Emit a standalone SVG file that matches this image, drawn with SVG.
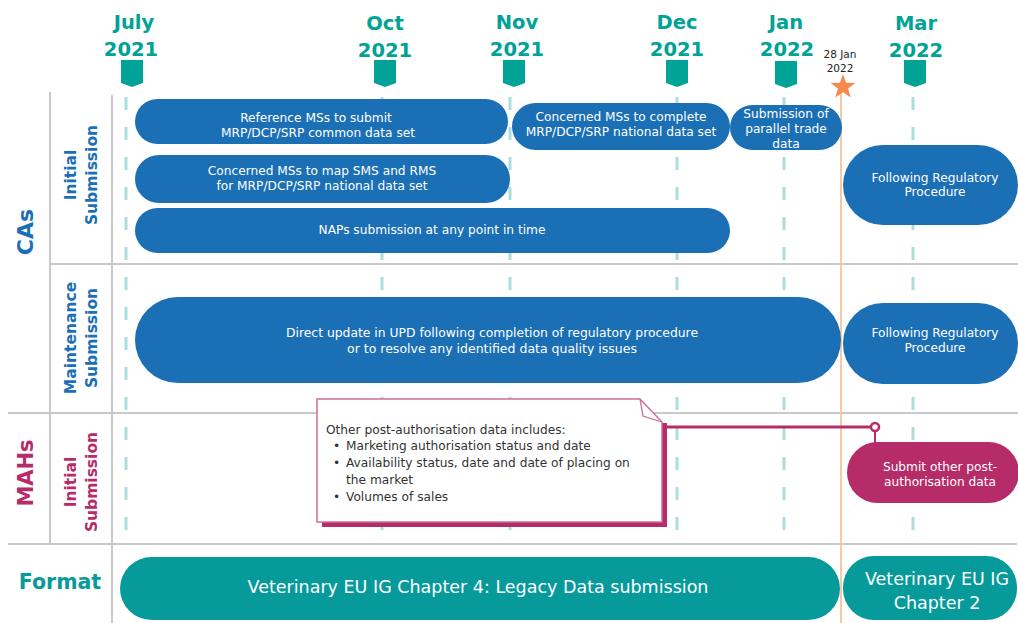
<svg xmlns="http://www.w3.org/2000/svg" width="1018" height="623" viewBox="0 0 1018 623">
<style>
.month{font-family:"DejaVu Sans",Verdana,sans-serif;font-weight:bold;font-size:19.5px;fill:#00a396;text-anchor:middle}
.grid{stroke:#c9c9c9;stroke-width:2;fill:none}
.dash{stroke:#a9dedb;stroke-width:3;stroke-dasharray:13 17;fill:none}
.blue{fill:#1b6fb5}
.mag{fill:#b52c69}
.teal{fill:#079a9b}
.pt{font-family:"DejaVu Sans",Verdana,sans-serif;font-size:12.2px;fill:#ffffff;text-anchor:middle}
.ft{font-family:"DejaVu Sans",Verdana,sans-serif;font-size:17.5px;fill:#ffffff;text-anchor:middle}
.lab{font-family:"DejaVu Sans",Verdana,sans-serif;font-weight:bold;text-anchor:middle}
.ct{font-family:"DejaVu Sans",Verdana,sans-serif;font-size:12.2px;fill:#333333}
</style>
<defs>
<polygon id="tab" points="-11,0 11,0 11,23 0,27 -11,23" fill="#00a396"/>
</defs>
<rect width="1018" height="623" fill="#ffffff"/>

<g id="header">
<text class="month" x="134" y="29">July</text><text class="month" x="131" y="56">2021</text>
<text class="month" x="385" y="30">Oct</text><text class="month" x="385" y="57">2021</text>
<text class="month" x="517" y="29">Nov</text><text class="month" x="517" y="56">2021</text>
<text class="month" x="677" y="29">Dec</text><text class="month" x="677" y="56">2021</text>
<text class="month" x="786" y="29">Jan</text><text class="month" x="787" y="56">2022</text>
<text class="month" x="916" y="30">Mar</text><text class="month" x="916" y="57">2022</text>
<use href="#tab" x="132" y="60"/>
<use href="#tab" x="385" y="60"/>
<use href="#tab" x="514" y="60"/>
<use href="#tab" x="677" y="60"/>
<use href="#tab" x="786" y="61"/>
<use href="#tab" x="915" y="60"/>
</g>

<g id="grid">
<line class="grid" x1="50" y1="92" x2="50" y2="544"/>
<line class="grid" x1="112" y1="95" x2="112" y2="623"/>
<line class="grid" x1="50" y1="264" x2="1018" y2="264"/>
<line class="grid" x1="8" y1="413" x2="1018" y2="413"/>
<line class="grid" x1="8" y1="544" x2="1017" y2="544"/>
<line class="dash" x1="126" y1="97" x2="126" y2="545"/>
<line class="dash" x1="382" y1="97" x2="382" y2="545"/>
<line class="dash" x1="510" y1="97" x2="510" y2="545"/>
<line class="dash" x1="677" y1="97" x2="677" y2="545"/>
<line class="dash" x1="784" y1="97" x2="784" y2="545"/>
<line class="dash" x1="913" y1="97" x2="913" y2="545"/>
</g>

<g id="deadline">
<line x1="841" y1="92" x2="841" y2="623" stroke="#f8c9a6" stroke-width="2"/>
<text font-family="DejaVu Sans,Verdana,sans-serif" font-size="10.5" fill="#222222" text-anchor="middle" x="840" y="58">28 Jan</text>
<text font-family="DejaVu Sans,Verdana,sans-serif" font-size="10.5" fill="#222222" text-anchor="middle" x="840" y="72">2022</text>
<polygon fill="#f58a4a" points="843,74 846.1,82.7 855.4,82.9 848.1,88.6 850.6,97.5 843,92.3 835.4,97.5 837.9,88.6 830.6,82.9 839.9,82.7"/>
</g>

<g id="labels">
<text class="lab" font-size="22" fill="#1b6fb5" transform="translate(33,232) rotate(-90)">CAs</text>
<text class="lab" font-size="15.5" fill="#1b6fb5" transform="translate(76,175) rotate(-90)">Initial</text>
<text class="lab" font-size="15.5" fill="#1b6fb5" transform="translate(97,175) rotate(-90)">Submission</text>
<text class="lab" font-size="15.5" fill="#1b6fb5" transform="translate(76,338) rotate(-90)">Maintenance</text>
<text class="lab" font-size="15.5" fill="#1b6fb5" transform="translate(97,338) rotate(-90)">Submission</text>
<text class="lab" font-size="21" fill="#b52c69" transform="translate(33,473) rotate(-90)">MAHs</text>
<text class="lab" font-size="15.5" fill="#b52c69" transform="translate(76,482) rotate(-90)">Initial</text>
<text class="lab" font-size="15.5" fill="#b52c69" transform="translate(97,482) rotate(-90)">Submission</text>
<text class="lab" font-size="20.5" fill="#079a9b" x="60" y="589">Format</text>
</g>

<g id="ref-common">
<rect class="blue" x="135" y="99" width="373" height="45" rx="22.5"/>
<text class="pt" x="316" y="122">Reference MSs to submit</text>
<text class="pt" x="318" y="137">MRP/DCP/SRP common data set</text>
</g>
<g id="concerned-complete">
<rect class="blue" x="512" y="103" width="218" height="47" rx="23.5"/>
<text class="pt" x="621" y="121">Concerned MSs to complete</text>
<text class="pt" x="621" y="136">MRP/DCP/SRP national data set</text>
</g>
<g id="parallel-trade">
<rect class="blue" x="730" y="105" width="112" height="45" rx="22.5"/>
<text class="pt" x="786" y="118" font-size="11.8">Submission of</text>
<text class="pt" x="786" y="133" font-size="11.8">parallel trade</text>
<text class="pt" x="786" y="148" font-size="11.8">data</text>
</g>
<g id="concerned-map">
<rect class="blue" x="135" y="155" width="375" height="48" rx="24"/>
<text class="pt" x="322" y="175">Concerned MSs to map SMS and RMS</text>
<text class="pt" x="322" y="190">for MRP/DCP/SRP national data set</text>
</g>
<g id="naps">
<rect class="blue" x="135" y="208" width="595" height="45" rx="22.5"/>
<text class="pt" x="432" y="234">NAPs submission at any point in time</text>
</g>
<g id="following-initial">
<rect class="blue" x="843" y="145" width="175" height="80" rx="40"/>
<text class="pt" x="935" y="182" font-size="11.3">Following Regulatory</text>
<text class="pt" x="935" y="196" font-size="11.3">Procedure</text>
</g>
<g id="direct-update">
<rect class="blue" x="135" y="297" width="706" height="86" rx="43"/>
<text class="pt" x="492" y="337" font-size="11.5" textLength="412" lengthAdjust="spacingAndGlyphs">Direct update in UPD following completion of regulatory procedure</text>
<text class="pt" x="492" y="353" font-size="11.5" textLength="290" lengthAdjust="spacingAndGlyphs">or to resolve any identified data quality issues</text>
</g>
<g id="following-maint">
<rect class="blue" x="843" y="303" width="175" height="81" rx="40"/>
<text class="pt" x="935" y="337" font-size="11.3">Following Regulatory</text>
<text class="pt" x="935" y="352" font-size="11.3">Procedure</text>
</g>

<g id="connectors">
<line x1="664" y1="427" x2="871" y2="427" stroke="#b52c69" stroke-width="3"/>
<circle cx="875" cy="427" r="4" fill="#ffffff" stroke="#b52c69" stroke-width="2.5"/>
<line x1="875" y1="431" x2="875" y2="443" stroke="#b52c69" stroke-width="2"/>
</g>

<g id="callout">
<path class="mag" d="M660,423 H667 V527 H322 V520 H660 Z"/>
<path d="M317,399 H640 L662,422 V522 H317 Z" fill="#ffffff" stroke="#cc6f98" stroke-width="1.5"/>
<path d="M640,399 L643,416 L662,422" fill="none" stroke="#cc6f98" stroke-width="1.3"/>
<text class="ct" x="326" y="434">Other post-authorisation data includes:</text>
<text class="ct" x="333" y="450">•</text><text class="ct" x="346" y="450">Marketing authorisation status and date</text>
<text class="ct" x="333" y="467">•</text><text class="ct" x="346" y="467">Availability status, date and date of placing on</text>
<text class="ct" x="346" y="484">the market</text>
<text class="ct" x="333" y="501">•</text><text class="ct" x="346" y="501">Volumes of sales</text>
</g>

<g id="submit-other">
<rect class="mag" x="847" y="442" width="172" height="61" rx="30.5"/>
<text class="pt" x="940" y="471" font-size="11.8">Submit other post-</text>
<text class="pt" x="940" y="486" font-size="11.8">authorisation data</text>
</g>

<g id="format-legacy">
<rect class="teal" x="120" y="557" width="720" height="63" rx="31.5"/>
<text class="ft" x="478" y="593">Veterinary EU IG Chapter 4: Legacy Data submission</text>
</g>
<g id="format-ch2">
<rect class="teal" x="843" y="556" width="174" height="64" rx="31"/>
<text class="ft" x="937" y="585">Veterinary EU IG</text>
<text class="ft" x="937" y="609">Chapter 2</text>
</g>
</svg>
